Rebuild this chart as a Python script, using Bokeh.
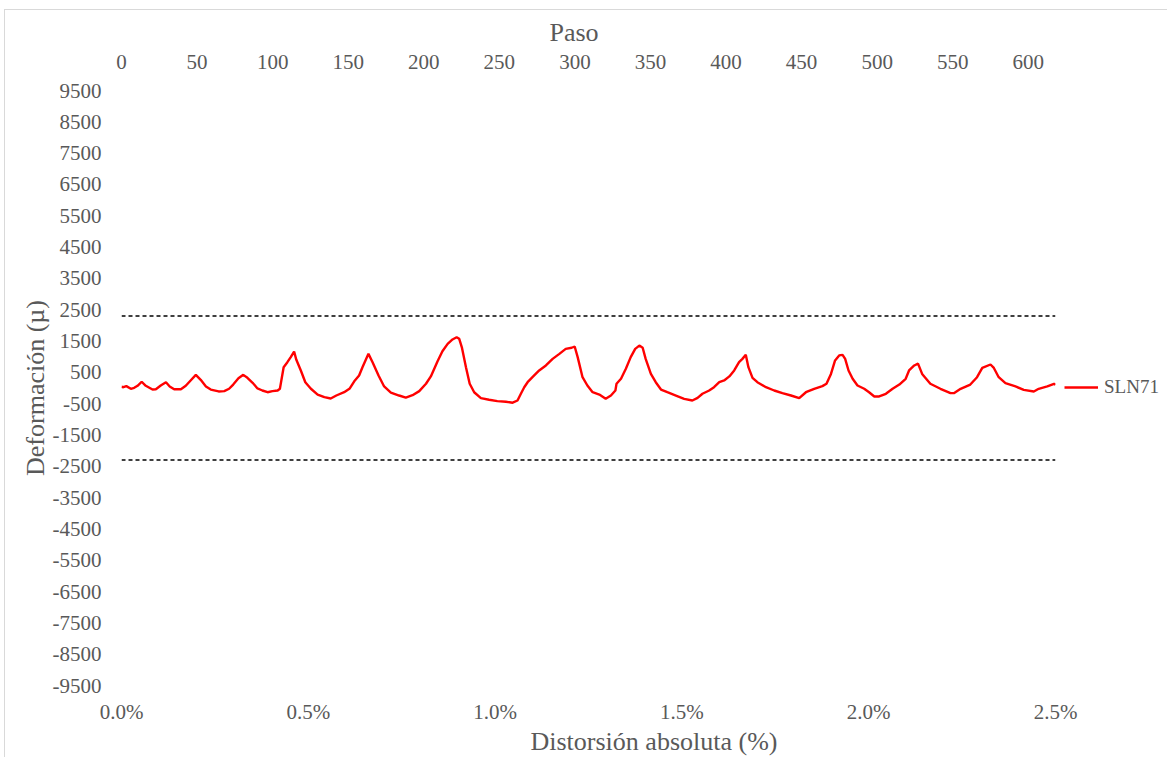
from bokeh.plotting import figure
from bokeh.models import (Range1d, LinearAxis, FixedTicker, Span, Legend, LegendItem, Title)
from bokeh.embed import file_html
from bokeh.resources import INLINE

# ---------------- data ----------------
distortion = [0.000, 0.005, 0.013, 0.025, 0.034, 0.043, 0.054, 0.065, 0.083, 0.092,
              0.105, 0.119, 0.129, 0.141, 0.159, 0.172, 0.185, 0.199, 0.212, 0.226,
              0.239, 0.260, 0.275, 0.288, 0.299, 0.313, 0.326, 0.337, 0.351, 0.364,
              0.377, 0.391, 0.404, 0.418, 0.424, 0.434, 0.444, 0.453, 0.462, 0.468,
              0.480, 0.492, 0.507, 0.525, 0.543, 0.560, 0.575, 0.596, 0.611, 0.623,
              0.636, 0.645, 0.661, 0.672, 0.688, 0.703, 0.721, 0.743, 0.761, 0.779,
              0.797, 0.815, 0.828, 0.841, 0.846, 0.859, 0.873, 0.886, 0.897, 0.904,
              0.911, 0.922, 0.932, 0.944, 0.962, 0.984, 1.006, 1.029, 1.047, 1.060,
              1.069, 1.078, 1.087, 1.100, 1.118, 1.136, 1.154, 1.172, 1.189, 1.205,
              1.213, 1.221, 1.234, 1.247, 1.261, 1.279, 1.296, 1.310, 1.322, 1.325,
              1.337, 1.350, 1.363, 1.375, 1.386, 1.395, 1.403, 1.417, 1.430, 1.444,
              1.461, 1.484, 1.506, 1.528, 1.542, 1.555, 1.573, 1.586, 1.600, 1.613,
              1.627, 1.640, 1.653, 1.662, 1.671, 1.678, 1.689, 1.702, 1.725, 1.747,
              1.769, 1.792, 1.814, 1.832, 1.854, 1.876, 1.887, 1.899, 1.910, 1.921,
              1.930, 1.937, 1.946, 1.957, 1.970, 1.988, 2.001, 2.015, 2.028, 2.046,
              2.064, 2.082, 2.099, 2.108, 2.122, 2.132, 2.143, 2.165, 2.192, 2.219,
              2.228, 2.246, 2.272, 2.290, 2.304, 2.326, 2.335, 2.348, 2.366, 2.393,
              2.415, 2.442, 2.455, 2.478, 2.496, 2.500]
sln71 = [40, 25, 60, -25, 5, 70, 200, 70, -50, -40,
         80, 185, 50, -40, -40, 70, 240, 420, 260, 50,
         -50, -110, -100, -25, 110, 310, 420, 325, 165, -15,
         -80, -135, -100, -80, -25, 665, 825, 985, 1165, 900,
         560, 185, -25, -210, -290, -335, -240, -135, -15, 215,
         400, 665, 1090, 825, 400, 50, -145, -240, -305, -230,
         -100, 135, 370, 720, 855, 1175, 1410, 1550, 1620, 1570,
         1300, 665, 135, -135, -325, -375, -420, -440, -470, -400,
         -185, 25, 185, 345, 560, 720, 930, 1090, 1250, 1285,
         1325, 985, 345, 80, -135, -210, -345, -240, -80, 135,
         295, 615, 985, 1250, 1355, 1285, 930, 450, 185, -50,
         -135, -240, -345, -400, -315, -185, -80, 25, 185, 240,
         370, 560, 825, 930, 1060, 665, 325, 185, 25, -80,
         -165, -240, -325, -135, -25, 60, 135, 450, 880, 1040,
         1060, 930, 560, 295, 80, -25, -135, -270, -270, -185,
         -25, 110, 295, 560, 720, 780, 450, 135, -25, -165,
         -165, -25, 110, 345, 640, 750, 640, 345, 155, 50,
         -60, -110, -25, 50, 135, 100]
series_name = "SLN71"
limit_upper = 2300
limit_lower = -2300

x_ticks = [0.0, 0.5, 1.0, 1.5, 2.0, 2.5]
x_tick_labels = ["0.0%", "0.5%", "1.0%", "1.5%", "2.0%", "2.5%"]
paso_ticks = [0, 50, 100, 150, 200, 250, 300, 350, 400, 450, 500, 550, 600]
paso_max = 618
y_ticks = [-9500, -8500, -7500, -6500, -5500, -4500, -3500, -2500, -1500, -500,
           500, 1500, 2500, 3500, 4500, 5500, 6500, 7500, 8500, 9500]
y_tick_labels = [str(t) for t in y_ticks]

x_title = "Distorsión absoluta (%)"
y_title = "Deformación (µ)"
top_title = "Paso"

# ---------------- styling ----------------
FONT = "Liberation Serif"
GREY = "#595959"
TICK_PX = "21px"
TITLE_PX = "26px"

p = figure(frame_width=934, frame_height=595,
           min_border_left=116, min_border_right=112,
           min_border_top=79, min_border_bottom=70,
           x_range=Range1d(x_ticks[0], x_ticks[-1]),
           y_range=Range1d(y_ticks[0], y_ticks[-1]),
           x_axis_location=None,
           output_backend="svg", toolbar_location=None, tools="")
p.styles = {"margin-left": "4px", "margin-top": "9px",
            "border-left": "1px solid #d9d9d9", "border-top": "1px solid #d9d9d9"}
p.xgrid.visible = False
p.ygrid.visible = False
p.outline_line_color = None
p.background_fill_color = "white"
p.border_fill_color = "white"

p.extra_x_ranges = {"paso": Range1d(0, paso_max)}
top_axis = LinearAxis(x_range_name="paso")
bottom_axis = LinearAxis()
p.add_layout(top_axis, "above")
p.add_layout(bottom_axis, "below")
ya = p.yaxis[0]

def style_axis(ax):
    ax.axis_line_color = None
    ax.major_tick_line_color = None
    ax.minor_tick_line_color = None
    ax.major_tick_out = 0
    ax.major_tick_in = 0
    ax.minor_tick_out = 0
    ax.minor_tick_in = 0
    ax.major_label_text_font = FONT
    ax.major_label_text_font_size = TICK_PX
    ax.major_label_text_color = GREY
    ax.axis_label_text_font = FONT
    ax.axis_label_text_font_size = TITLE_PX
    ax.axis_label_text_color = GREY
    ax.axis_label_text_font_style = "normal"

for ax in (bottom_axis, ya, top_axis):
    style_axis(ax)

bottom_axis.ticker = FixedTicker(ticks=x_ticks)
bottom_axis.major_label_overrides = {t: l for t, l in zip(x_ticks, x_tick_labels)}
bottom_axis.major_label_standoff = 14

ya.ticker = FixedTicker(ticks=y_ticks)
ya.major_label_overrides = {t: l for t, l in zip(y_ticks, y_tick_labels)}
ya.axis_label = y_title
ya.major_label_standoff = 20
ya.axis_label_standoff = 0

top_axis.ticker = FixedTicker(ticks=paso_ticks)
top_axis.major_label_standoff = 22

# axis titles placed like the reference (not centred on the frame)
bottom_title = Title(text=x_title, align="left", offset=409, standoff=0,
                     text_font=FONT, text_font_size=TITLE_PX, text_color=GREY,
                     text_font_style="normal", vertical_align="top")
p.add_layout(bottom_title, "below")
paso_title = Title(text=top_title, align="left", offset=428, standoff=10,
                   text_font=FONT, text_font_size=TITLE_PX, text_color=GREY,
                   text_font_style="normal", vertical_align="bottom")
p.add_layout(paso_title, "above")

for lim in (limit_upper, limit_lower):
    p.add_layout(Span(location=lim, dimension="width", line_color="black",
                      line_width=1.5, line_dash="4 3"))

r = p.line(distortion, sln71, line_color="#FF0000", line_width=2.4)

legend = Legend(items=[LegendItem(label=series_name, renderers=[r])],
                location=(9, 287), border_line_color=None,
                background_fill_alpha=0, padding=0, margin=0,
                glyph_width=34, label_standoff=6,
                label_text_font=FONT, label_text_font_size="19px",
                label_text_color=GREY)
p.add_layout(legend, "right")

open("out.html", "w").write(file_html(p, INLINE))
